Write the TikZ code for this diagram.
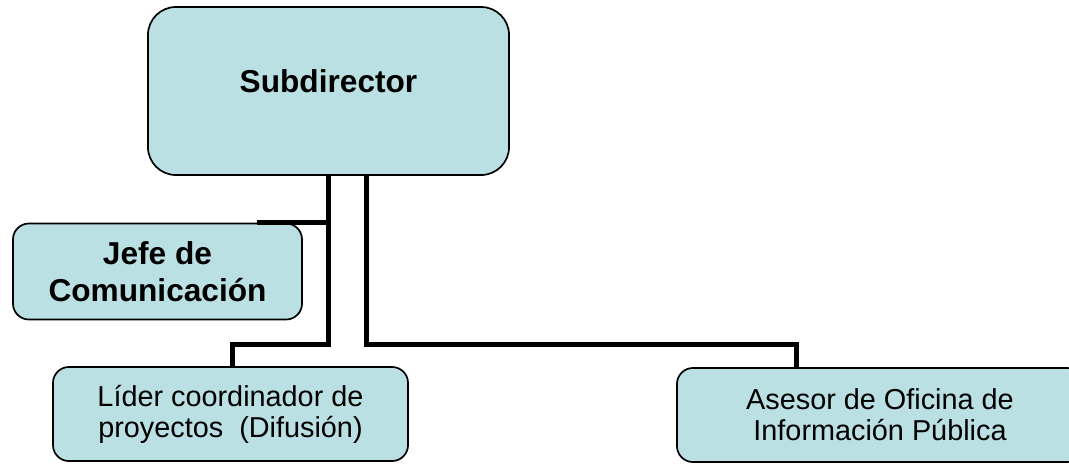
\documentclass[tikz,border=0pt]{standalone}
\usepackage{fontspec}
\setmainfont{Liberation Sans}
\usepackage{xcolor}
\definecolor{BoxCyan}{RGB}{187,224,227}
\usepackage{tikz}
\usetikzlibrary{arrows.meta, positioning}

\begin{document}
\begin{tikzpicture}[x=0.025cm, y=-0.025cm,
    unit/.style={draw=black, line width=1.2pt, fill=BoxCyan, align=center, inner sep=0pt, rounded corners=0.4cm},
    head/.style={font=\fontsize{22.5}{26}\selectfont\bfseries},
    staff/.style={font=\fontsize{20.5}{22}\selectfont},
    link/.style={draw=black, line width=3.6pt}]
    \clip (0, 0) rectangle (1069, 463);
    \node[unit, head, minimum width=9.025cm, minimum height=4.2cm, rounded corners=0.7cm, text depth=0.5cm] (sub) at (328.5, 91) {Subdirector};
    \node[unit, head, minimum width=7.225cm, minimum height=2.4cm] (jefe) at (157.5, 271.5) {Jefe de\\Comunicación};
    \node[unit, staff, minimum width=8.875cm, minimum height=2.35cm] (lider) at (230.5, 414) {Líder coordinador de\\proyectos~ (Difusión)};
    \node[unit, staff, minimum width=10.15cm, minimum height=2.35cm] (asesor) at (880, 415) {Asesor de Oficina de\\Información Pública};
    \draw[link] (sub.south) -- ++(0, 169) -| ([xshift=0.05cm]lider.north);
    \draw[link] (sub.south |- jefe.north) -- ++(-72, 0);
    \draw[link] ([xshift=0.94cm]sub.south) -- ++(0, 169) -| ([xshift=-2.08cm]asesor.north);
\end{tikzpicture}
\end{document}
